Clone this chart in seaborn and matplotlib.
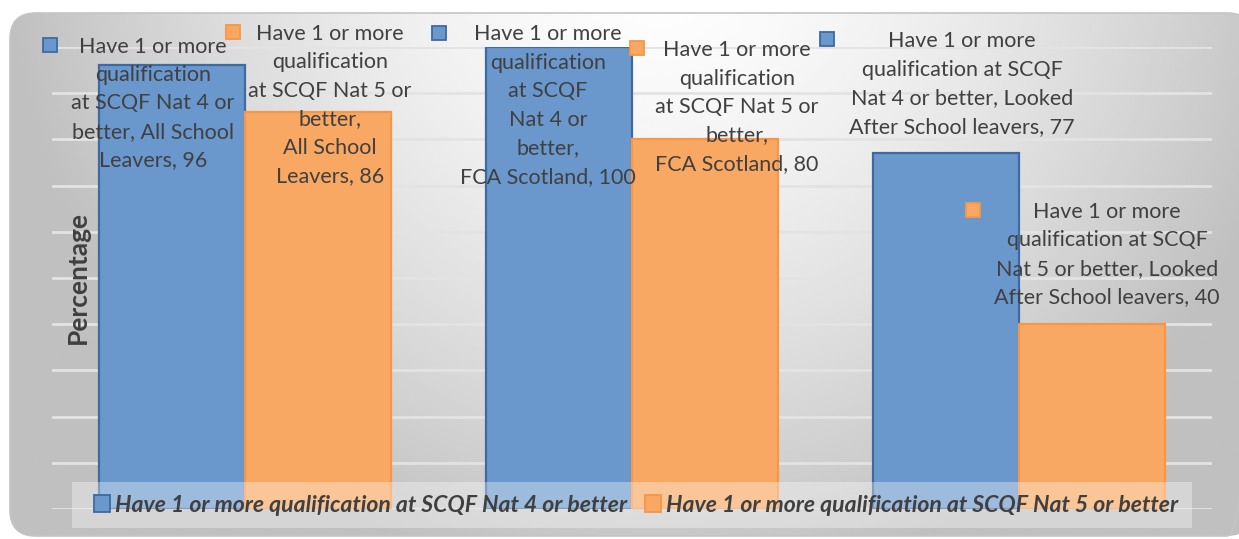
import matplotlib
matplotlib.use("Agg")
import matplotlib.pyplot as plt
from matplotlib.patches import FancyBboxPatch, Rectangle, Patch
import numpy as np
import pandas as pd
import seaborn as sns

# data
groups = ["All School Leavers", "FCA Scotland", "Looked After School leavers"]
series = ["Have 1 or more qualification at SCQF Nat 4 or better",
          "Have 1 or more qualification at SCQF Nat 5 or better"]
nat4 = [96, 100, 77]
nat5 = [86, 80, 40]

label_texts = [
    "Have 1 or more\nqualification\nat SCQF Nat 4 or\nbetter, All School\nLeavers, 96",
    "Have 1 or more\nqualification\nat SCQF Nat 5 or\nbetter,\nAll School\nLeavers, 86",
    "Have 1 or more\nqualification\nat SCQF\nNat 4 or\nbetter,\nFCA Scotland, 100",
    "Have 1 or more\nqualification\nat SCQF Nat 5 or\nbetter,\nFCA Scotland, 80",
    "Have 1 or more\nqualification at SCQF\nNat 4 or better, Looked\nAfter School leavers, 77",
    "Have 1 or more\nqualification at SCQF\nNat 5 or better, Looked\nAfter School leavers, 40",
]
label_series = [0, 1, 0, 1, 0, 1]

# label placement in figure pixels (block centre, key square centre)
label_xy = [(153, 103.5), (330, 105), (548, 105.5), (737, 107), (962, 84), (1107, 254.5)]
key_xy = [(50, 45), (233, 32), (439, 33), (637, 48), (827, 39), (973, 210)]

BLUE = "#6a98cc"
BLUE_EDGE = "#3d6aa0"
ORANGE = "#f8a862"
ORANGE_EDGE = "#f79646"
TXT = "#404040"

W, H = 1239, 539

sns.set_theme(style="white")
plt.rcParams["font.family"] = ["Lato", "DejaVu Sans"]

fig = plt.figure(figsize=(W / 100, H / 100), dpi=100)

# background panel with grey gradient
bg = fig.add_axes([0, 0, 1, 1])
bg.set_xlim(0, W)
bg.set_ylim(H, 0)
bg.axis("off")
gx, gy = np.meshgrid(np.linspace(0, W, 400), np.linspace(0, H, 200))
d = np.sqrt(((gx - 660) / 640) ** 2 + ((gy + 60) / 640) ** 2)
shade = np.clip(1.0 - 0.24 * d ** 1.5, 0.75, 0.99)
img = bg.imshow(shade, cmap="gray", vmin=0, vmax=1, extent=(0, W, H, 0), aspect="auto")
panel = FancyBboxPatch((10, 13), W + 4, H - 13 - 3, boxstyle="round,pad=0,rounding_size=26",
                       transform=bg.transData, facecolor="none", edgecolor="#c4c4c4", lw=1.2)
bg.add_patch(panel)
img.set_clip_path(panel)

# plot area: x 52..1212 px, y 0 at 509 px, 100 at 47 px
ax = fig.add_axes([52 / W, (H - 509) / H, 1160 / W, (509 - 47) / H])
ax.patch.set_alpha(0)

df = pd.DataFrame({
    "group": groups * 2,
    "series": [series[0]] * 3 + [series[1]] * 3,
    "value": nat4 + nat5,
})
sns.barplot(data=df, x="group", y="value", hue="series", palette=[BLUE, ORANGE],
            width=0.755, saturation=1, legend=False, ax=ax, zorder=3)
for cont, ec in zip(ax.containers, [BLUE_EDGE, ORANGE_EDGE]):
    for bar in cont:
        bar.set_edgecolor(ec)
        bar.set_linewidth(1.6)

ax.set_xlim(-0.5, 2.5)
ax.set_ylim(0, 100)
ax.set_yticks(range(0, 101, 10))
ax.yaxis.grid(True, color="#e3e3e3", lw=2)
ax.set_axisbelow(True)
ax.tick_params(left=False, bottom=False, labelleft=False, labelbottom=False)
for s in ax.spines.values():
    s.set_visible(False)
ax.set_xlabel("")
ax.set_ylabel("")

fig.text(78 / W, 1 - 278 / H, "Percentage", rotation=90, ha="center", va="center",
         fontsize=19, fontweight="bold", color=TXT)

# data labels with legend keys
cols = [(BLUE, BLUE_EDGE), (ORANGE, ORANGE_EDGE)]
for txt, si, (lx, ly), (kx, ky) in zip(label_texts, label_series, label_xy, key_xy):
    fig.text(lx / W, 1 - ly / H, txt, ha="center", va="center", multialignment="center",
             fontsize=15.5, color=TXT, linespacing=1.53, zorder=5)
    fc, ec = cols[si]
    fig.patches.append(Rectangle(((kx - 7) / W, 1 - (ky + 7) / H), 14 / W, 14 / H,
                                 transform=fig.transFigure, facecolor=fc, edgecolor=ec,
                                 lw=1.3, zorder=5))

# legend strip
fig.patches.append(Rectangle((72 / W, (H - 528) / H), 1120 / W, 46 / H,
                             transform=fig.transFigure, facecolor="white", alpha=0.35,
                             edgecolor="none", zorder=4))
handles = [Patch(facecolor=BLUE, edgecolor=BLUE_EDGE, lw=1.3),
           Patch(facecolor=ORANGE, edgecolor=ORANGE_EDGE, lw=1.3)]
leg = fig.legend(handles, series, loc="center", bbox_to_anchor=(636 / W, 1 - 505 / H),
                 ncol=2, frameon=False, handlelength=0.7, handleheight=0.7,
                 handletextpad=0.2, columnspacing=0.8,
                 prop={"size": 16.6, "weight": "bold", "style": "italic"})
for t in leg.get_texts():
    t.set_color(TXT)
leg.set_zorder(6)

fig.savefig("out.png", dpi=100)
